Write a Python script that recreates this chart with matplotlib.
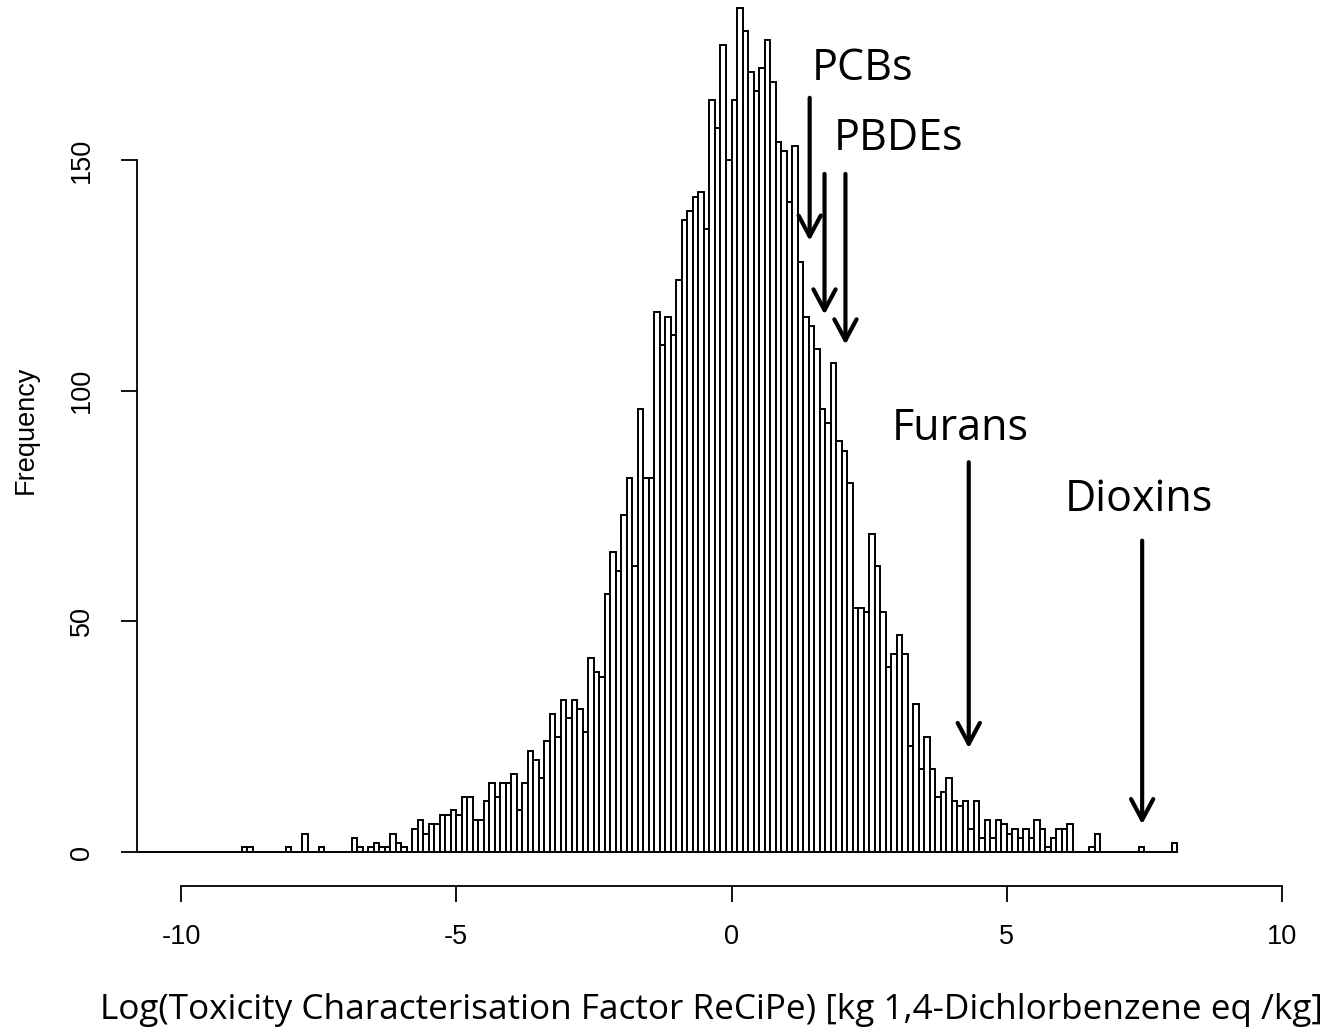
import numpy as np
import matplotlib
matplotlib.use("Agg")
import matplotlib.pyplot as plt

# ---- data -------------------------------------------------------------
bin_start = -11.0
bin_width = 0.1
counts = [
    # -11.0 .. -9.1
    0, 0, 0, 0, 0, 0, 0, 0, 0, 0, 0, 0, 0, 0, 0, 0, 0, 0, 0, 0,
    # -9.0 .. -8.1
    0, 1, 1, 0, 0, 0, 0, 0, 0, 1,
    # -8.0 .. -7.1
    0, 0, 4, 0, 0, 1, 0, 0, 0, 0,
    # -7.0 .. -6.1
    0, 3, 1, 0, 1, 2, 1, 1, 4, 2,
    # -6.0 .. -5.1
    1, 0, 5, 7, 4, 6, 6, 8, 8, 9,
    # -5.0 .. -4.1
    8, 12, 12, 7, 7, 11, 15, 12, 15, 15,
    # -4.0 .. -3.1
    17, 9, 15, 22, 20, 16, 24, 30, 25, 33,
    # -3.0 .. -2.1
    29, 33, 31, 26, 42, 39, 38, 56, 65, 61,
    # -2.0 .. -1.1
    73, 81, 62, 96, 81, 81, 117, 110, 116, 112,
    # -1.0 .. -0.1
    124, 137, 139, 142, 143, 135, 163, 157, 175, 150,
    # 0.0 .. 0.9
    163, 183, 178, 169, 165, 170, 176, 167, 154, 152,
    # 1.0 .. 1.9
    141, 153, 128, 116, 114, 109, 96, 93, 106, 89,
    # 2.0 .. 2.9
    87, 80, 53, 53, 52, 69, 62, 52, 40, 43,
    # 3.0 .. 3.9
    47, 43, 23, 32, 18, 25, 18, 12, 13, 16,
    # 4.0 .. 4.9
    11, 10, 11, 5, 11, 3, 7, 3, 7, 6,
    # 5.0 .. 5.9
    4, 5, 3, 5, 3, 7, 5, 1, 3, 5,
    # 6.0 .. 6.9
    5, 6, 0, 0, 0, 1, 4, 0, 0, 0,
    # 7.0 .. 8.0
    0, 0, 0, 0, 1, 0, 0, 0, 0, 0, 2,
]
x_ticks = [-10, -5, 0, 5, 10]
y_ticks = [0, 50, 100, 150]

# annotation labels with arrow (x, y_start, y_end) in data units
labels = ["PCBs", "PBDEs", "Furans", "Dioxins"]
arrows = [(1.42, 163.5, 132.5), (1.69, 147.0, 116.5), (2.07, 147.0, 110.0),
          (4.31, 84.5, 22.5), (7.46, 67.5, 6.0)]

# ---- figure -----------------------------------------------------------
W, H = 1333, 1033
fig = plt.figure(figsize=(W / 100, H / 100), dpi=100)
ax = fig.add_axes([137 / W, (H - 886) / H, (1326 - 137) / W, 886 / H])

lefts = bin_start + bin_width * np.arange(len(counts))
ax.bar(lefts, counts, width=bin_width, align="edge", facecolor="white",
       edgecolor="black", linewidth=1.4)

ax.set_xlim(-10.8, 10.8)
ax.set_ylim(-7.37, 184.7)

for s in ["top", "right"]:
    ax.spines[s].set_visible(False)
ax.spines["left"].set_bounds(0, 150)
ax.spines["bottom"].set_bounds(-10, 10)
for s in ["left", "bottom"]:
    ax.spines[s].set_linewidth(1.3)

tick_font = {"family": ["Liberation Sans", "DejaVu Sans"], "size": 19.5}
ax.set_xticks(x_ticks)
ax.set_xticklabels([str(v) for v in x_ticks], fontdict=tick_font)
ax.set_yticks(y_ticks)
ax.set_yticklabels([str(v) for v in y_ticks], fontdict=tick_font,
                   rotation=90, va="center")
ax.tick_params(axis="both", length=11.5, width=1.3, direction="out")
ax.tick_params(axis="x", pad=16)
ax.tick_params(axis="y", pad=19)

fig.text(26 / W, 1 - 430 / H, "Frequency", rotation=90, ha="center",
         va="center", fontdict=tick_font)

ann_font = ["Open Sans", "DejaVu Sans"]
fig.text(711 / W, 1 - 1019 / H,
         "Log(Toxicity Characterisation Factor ReCiPe) [kg 1,4-Dichlorbenzene eq /kg]",
         ha="center", va="baseline", family=ann_font, size=25.3)

label_pos = [(863, 80), (899, 150), (960, 440), (1139, 511)]
for lab, (px, py) in zip(labels, label_pos):
    fig.text(px / W, 1 - py / H, lab, ha="center", va="baseline",
             family=ann_font, size=31)

for (x, y0, y1) in arrows:
    ax.annotate("", xy=(x, y1), xytext=(x, y0),
                arrowprops=dict(arrowstyle="->,head_length=0.75,head_width=0.4",
                                lw=3.0, color="black", mutation_scale=20,
                                shrinkA=0, shrinkB=0))

fig.savefig("out.png", dpi=100)
